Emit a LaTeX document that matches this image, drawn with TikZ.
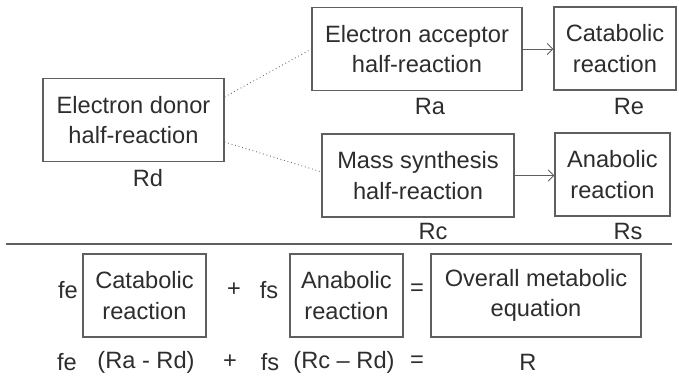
\documentclass[tikz,border=0pt]{standalone}
\usepackage{fontspec}
\setmainfont{Liberation Sans}
\usetikzlibrary{arrows.meta}
\definecolor{inkgray}{RGB}{45,45,45}
\definecolor{linegray}{RGB}{95,95,95}

\begin{document}
\begin{tikzpicture}[x=0.025cm, y=-0.025cm,
  every node/.style={text=inkgray, font=\fontsize{16.8}{21.5}\selectfont},
  box/.style={draw=linegray, line width=0.8pt, align=center, minimum height=2.075cm, inner sep=0pt},
  link/.style={draw=linegray, dotted, line width=0.6pt},
  flow/.style={draw=linegray, line width=0.6pt, -{Straight Barb[length=4pt,width=8pt]}}]

  \useasboundingbox (0,0) rectangle (679,381);

  % half-reactions
  \node[box, minimum width=4.525cm] (donor) at (133.5,120) {Electron donor\\half-reaction};
  \node[box, minimum width=5.25cm] (acceptor) at (417,49) {Electron acceptor\\half-reaction};
  \node[box, minimum width=3.05cm] (catabolic) at (615,48.5) {Catabolic\\reaction};
  \node[box, minimum width=4.8cm] (synthesis) at (418,175.5) {Mass synthesis\\half-reaction};
  \node[box, minimum width=2.875cm] (anabolic) at (612.5,174.5) {Anabolic\\reaction};

  \node (Rd) at (148,178) {Rd};
  \node (Ra) at (430,106) {Ra};
  \node (Re) at (629,106) {Re};
  \node (Rc) at (433,231) {Rc};
  \node (Rs) at (628,231) {Rs};

  \draw[link] ([yshift=0.575cm]donor.east) -- (acceptor.west);
  \draw[link] ([yshift=-0.55cm]donor.east) -- ([yshift=0.09cm]synthesis.west);
  \draw[flow] (acceptor.east) -- (acceptor.east -| catabolic.west);
  \draw[flow] (synthesis.east) -- (synthesis.east -| anabolic.west);

  \coordinate (ruleL) at (6,244);
  \coordinate (ruleR) at (672,244);
  \draw[linegray, line width=1pt] (ruleL) -- (ruleR);

  % overall equation
  \node (fe1) at (68,290) {fe};
  \node[box, minimum width=3.075cm] (catabolic2) at (144.5,295.5) {Catabolic\\reaction};
  \node (plus1) at (234,290) {+};
  \node (fs1) at (269,290) {fs};
  \node[box, minimum width=2.825cm] (anabolic2) at (346.5,295.5) {Anabolic\\reaction};
  \node (eq1) at (417,290) {=};
  \node[box, minimum width=5.25cm] (overall) at (536,295.5) {Overall metabolic\\equation};

  \node (fe2) at (67,362) {fe};
  \node (catab) at (146,362) {(Ra - Rd)};
  \node (plus2) at (230,362) {+};
  \node (fs2) at (270,362) {fs};
  \node (anab) at (344,362) {(Rc – Rd)};
  \node (eq2) at (417,362) {=};
  \node (R) at (528,362) {R};
\end{tikzpicture}
\end{document}
